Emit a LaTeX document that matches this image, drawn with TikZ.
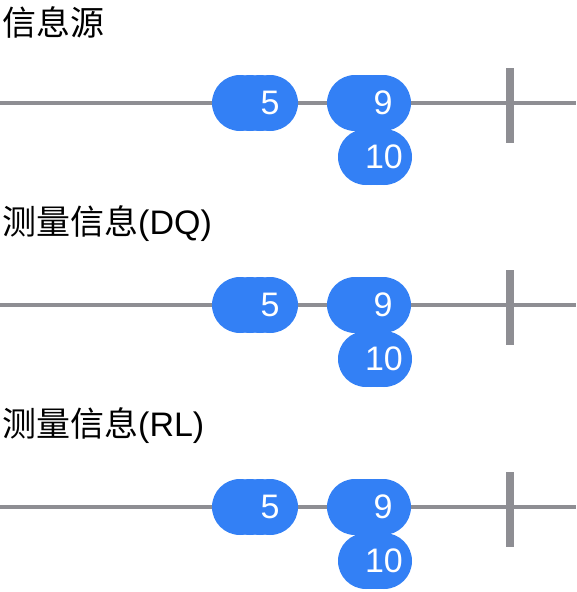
\documentclass[tikz,border=0pt]{standalone}
\usepackage{fontspec}
\setmainfont{Liberation Sans}
\newfontfamily\cjk{Noto Sans CJK SC}
\usetikzlibrary{positioning}
\definecolor{marbleblue}{RGB}{51,128,245}
\definecolor{linegray}{RGB}{142,142,147}
\tikzset{
  timeline/.style={draw=linegray, line width=4pt},
  endtick/.style={draw=linegray, line width=8pt},
  marble/.style={circle, fill=marbleblue, minimum size=56pt, inner sep=0pt,
    text=white, font=\fontsize{34}{38}\selectfont},
  rowtitle/.style={anchor=west, inner sep=0pt, font=\fontsize{34}{38}\selectfont},
}
\begin{document}
\begin{tikzpicture}[x=1pt,y=-1pt]
	\useasboundingbox (0,0) rectangle (576,592);
	\foreach \i/\y/\name/\tag in {1/103/信息源/, 2/305/测量信息/(DQ), 3/507/测量信息/(RL)} {
		\node[rowtitle] (title\i) at (2,\y-81) {{\cjk\name}\tag};
		% time axis and completion tick
		\coordinate (start\i) at (0,\y);
		\coordinate (end\i) at (576,\y);
		\draw[timeline] (start\i) -- (end\i);
		\coordinate (ticktop\i) at (510,\y-35);
		\coordinate (tickbot\i) at (510,\y+40);
		\draw[endtick] (ticktop\i) -- (tickbot\i);
		% marbles, stacked ones first
		\foreach \x [count=\k] in {240,250,260} {
			\node[marble] (under\i-\k) at (\x,\y) {};
		}
		\node[marble] (five\i) at (270,\y) {5};
		\foreach \x [count=\k] in {355,362,369,376} {
			\node[marble] (undernine\i-\k) at (\x,\y) {};
		}
		\node[marble] (nine\i) at (383,\y) {9};
		\foreach \x [count=\k] in {366,371,377} {
			\node[marble] (underten\i-\k) at (\x,\y+54) {};
		}
		\node[marble] (ten\i) at (384,\y+54) {10};
	}
\end{tikzpicture}
\end{document}
